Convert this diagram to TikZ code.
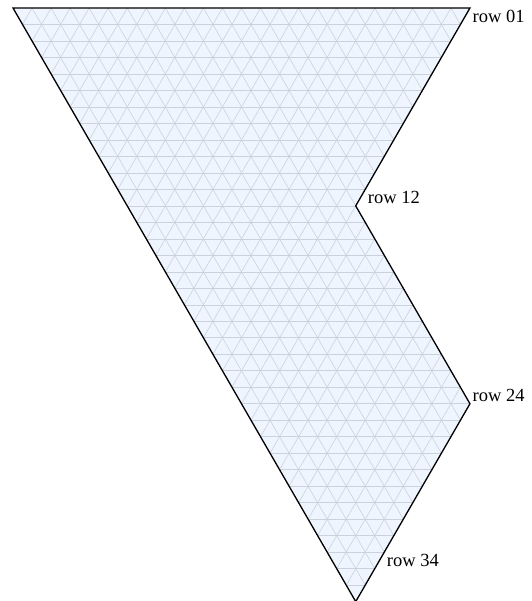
\documentclass[tikz,border=0pt]{standalone}
\usepackage{fontspec}
\setmainfont{Liberation Serif}
\definecolor{fillblue}{HTML}{EEF5FE}
\definecolor{gridc}{HTML}{CCD2DB}
\tikzset{
  gridline/.style={draw=gridc, line width=0.6pt},
  outline/.style={draw=black, line width=1.3pt, line join=miter},
  rowlab/.style={anchor=west, inner sep=2.5pt, font=\fontsize{18.5}{21}\selectfont}
}
\begin{document}
\begin{tikzpicture}[x=19.04pt,y=19.04pt]
\def\h{0.8660254}
\useasboundingbox (-13pt,8pt) rectangle (518pt,-593pt);
\fill[fillblue] (0,0) -- (24,0) -- (18,{-12*\h}) -- (24,{-24*\h}) -- (18,{-36*\h}) -- cycle;
\begin{scope}
  \clip (0,0) -- (24,0) -- (18,{-12*\h}) -- (24,{-24*\h}) -- (18,{-36*\h}) -- cycle;
  \foreach \d in {1,...,35} \draw[gridline] (-1,{-\d*\h}) -- (26,{-\d*\h});
  \foreach \c in {-20,...,45} {
    \draw[gridline] (\c,0) -- ++(18,{-36*\h});
    \draw[gridline] (\c,0) -- ++(-18,{-36*\h});
  }
\end{scope}
\draw[outline] (0,0) -- (24,0) -- (18,{-12*\h}) -- (24,{-24*\h}) -- (18,{-36*\h}) -- cycle;
\node[rowlab] (r01) at (24,{-0.5*\h}) {row 01};
\node[rowlab] (r12) at (18.5,{-11.5*\h}) {row 12};
\node[rowlab] (r24) at (24,{-23.5*\h}) {row 24};
\node[rowlab] (r34) at (19.5,{-33.5*\h}) {row 34};
\end{tikzpicture}
\end{document}
